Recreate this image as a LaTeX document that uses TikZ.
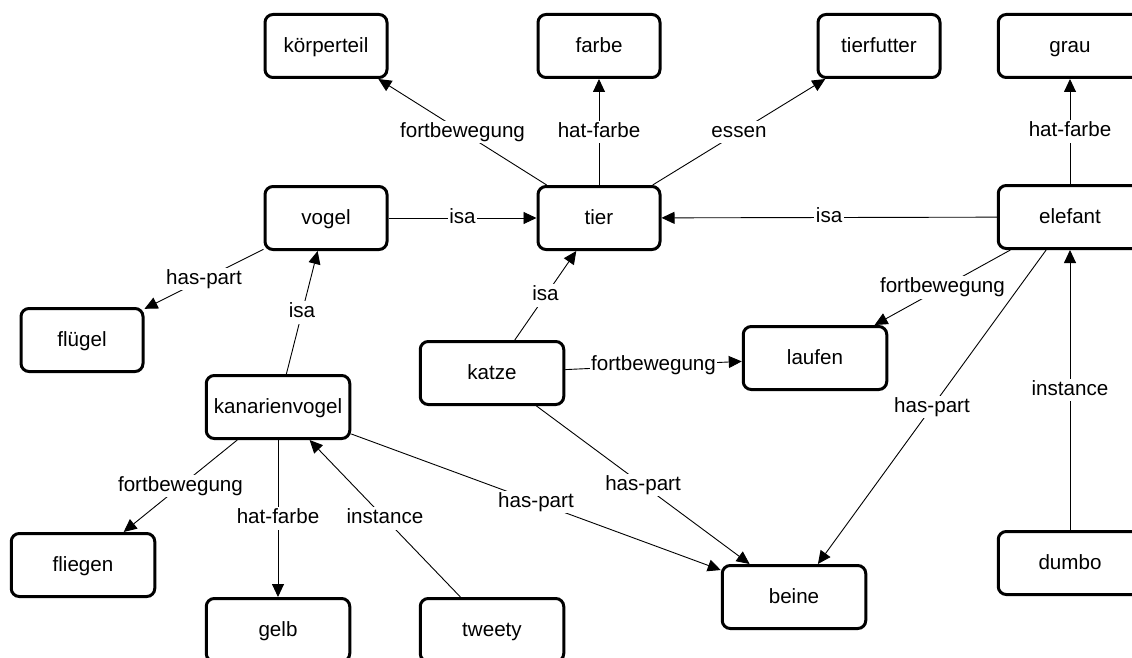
\documentclass[tikz,border=0pt]{standalone}
\usepackage{fontspec}
\setmainfont{Liberation Sans}
\usetikzlibrary{arrows.meta}
\begin{document}
\begin{tikzpicture}[x=1pt,y=-1pt,
  box/.style={draw, line width=3pt, rounded corners=8pt, fill=white,
    minimum height=63pt, inner sep=0pt, text height=14.8pt, text depth=1pt,
    font=\fontsize{20.6}{24}\selectfont},
  narrowbox/.style={box, minimum width=122pt},
  widebox/.style={box, minimum width=143.5pt},
  rel/.style={draw, line width=0.9pt, -{Triangle[length=13pt,width=12pt]}},
  lbl/.style={fill=white, inner sep=1.5pt, text height=14.8pt, text depth=4.3pt,
    font=\fontsize{20.6}{24}\selectfont}]
\useasboundingbox (0,0) rectangle (1132,658);
\clip (0,0) rectangle (1132,658);
% nodes
\node[narrowbox] (koerperteil) at (326,46) {körperteil};
\node[narrowbox] (farbe) at (599,46) {farbe};
\node[narrowbox] (tierfutter) at (879,46) {tierfutter};
\node[widebox] (grau) at (1070,46) {grau};
\node[narrowbox] (vogel) at (326,218) {vogel};
\node[narrowbox] (tier) at (599,218) {tier};
\node[widebox] (elefant) at (1070,217) {elefant};
\node[narrowbox] (fluegel) at (82,340) {flügel};
\node[widebox] (katze) at (492,373) {katze};
\node[widebox] (laufen) at (815,358) {laufen};
\node[widebox] (kanarienvogel) at (278,407) {kanarienvogel};
\node[widebox] (fliegen) at (83,565) {fliegen};
\node[widebox] (beine) at (794,597) {beine};
\node[widebox] (dumbo) at (1070,563) {dumbo};
\node[widebox] (gelb) at (278,630) {gelb};
\node[widebox] (tweety) at (492,630) {tweety};
% connectors
\draw[rel] (tier) -- node[lbl]{fortbewegung} (koerperteil);
\draw[rel] (tier) -- node[lbl]{hat-farbe} (farbe);
\draw[rel] (tier) -- node[lbl]{essen} (tierfutter);
\draw[rel] (elefant) -- node[lbl]{hat-farbe} (grau);
\draw[rel] (vogel) -- node[lbl]{isa} (tier);
\draw[rel] (elefant) -- node[lbl]{isa} (tier);
\draw[rel] (vogel) -- node[lbl]{has-part} (fluegel);
\draw[rel] (kanarienvogel) -- node[lbl]{isa} (vogel);
\draw[rel] (katze) -- node[lbl]{isa} (tier);
\draw[rel] (katze) -- node[lbl]{fortbewegung} (laufen);
\draw[rel] (elefant) -- node[lbl]{fortbewegung} (laufen);
\draw[rel] (elefant) -- node[lbl]{has-part} (beine);
\draw[rel] (dumbo) -- node[lbl]{instance} (elefant);
\draw[rel] (katze) -- node[lbl]{has-part} (beine);
\draw[rel] (kanarienvogel) -- node[lbl]{has-part} (beine);
\draw[rel] (kanarienvogel) -- node[lbl]{fortbewegung} (fliegen);
\draw[rel] (kanarienvogel) -- node[lbl]{hat-farbe} (gelb);
\draw[rel] (tweety) -- node[lbl]{instance} (kanarienvogel);
\end{tikzpicture}
\end{document}
